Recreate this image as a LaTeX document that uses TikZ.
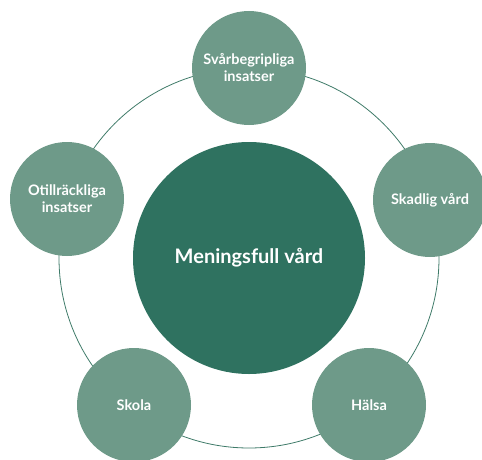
\documentclass[tikz,border=0pt]{standalone}
\usepackage{fontspec}
\setmainfont{Lato}
\usepackage{tikz}
\usetikzlibrary{positioning}
\definecolor{kärna}{HTML}{2F7260}
\definecolor{del}{HTML}{6E9A89}
\definecolor{ring}{HTML}{3E7A68}

\begin{document}
\begin{tikzpicture}[
    x=1pt, y=-1pt,
    core/.style={circle, fill=kärna, minimum size=232pt, inner sep=0pt, align=center, text=white, font=\fontsize{20}{24}\selectfont\bfseries},
    part/.style={circle, fill=del, minimum size=114pt, inner sep=0pt, align=center, text=white, font=\fontsize{14.5}{17}\selectfont\bfseries},
    ringline/.style={draw=ring, line width=0.8pt},
]
\useasboundingbox (0,0) rectangle (482,460);
\clip (0,0) rectangle (482,460);
\coordinate (M) at (249,258);
\draw[ringline] (M) circle[radius=190];
\node[core] (K) at (M) {Meningsfull vård};
\node[part] (P1) at (249,68) {Svårbegripliga\\insatser};
\node[part] (P2) at (430,200) {Skadlig vård};
\node[part] (P3) at (67,199) {Otillräckliga\\insatser};
\node[part] (P4) at (134,405) {Skola};
\node[part] (P5) at (369,405) {Hälsa};
\end{tikzpicture}
\end{document}
